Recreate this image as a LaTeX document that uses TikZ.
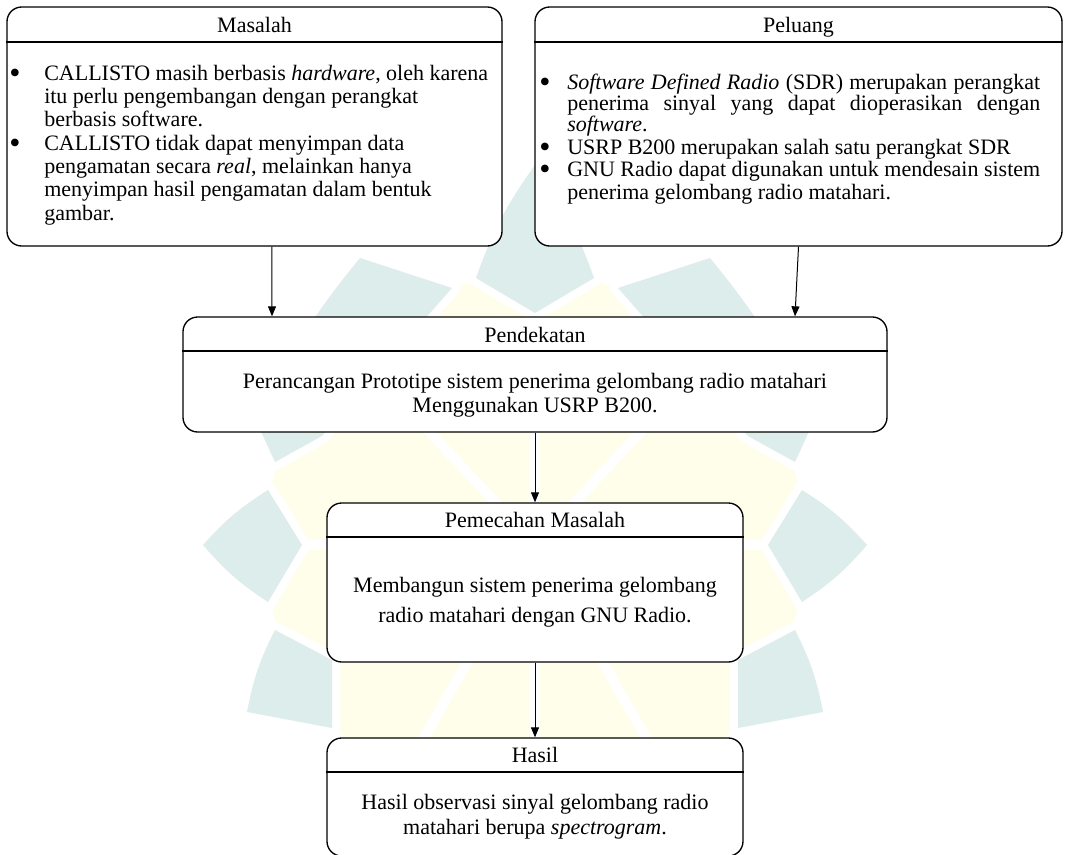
\documentclass[tikz,border=0pt]{standalone}
\usepackage{fontspec}
\setmainfont{Liberation Serif}
\usetikzlibrary{arrows.meta}
\definecolor{wmteal}{HTML}{DDEDEB}
\definecolor{wmyellow}{HTML}{FFFEEA}
\newcommand{\mybul}{\smash{\raisebox{-0.17em}{\scalebox{1.45}{\textbullet}}}}
\begin{document}
\begin{tikzpicture}[x=0.75pt,y=-0.75pt,
  font=\fontsize{16.5pt}{17.5pt}\selectfont,
  box/.style={draw=black,line width=1pt,rounded corners=11pt,fill=white,inner sep=0pt},
  sepline/.style={line width=1pt},
  txt/.style={inner sep=0pt,anchor=base west},
  ctxt/.style={inner sep=0pt,anchor=base},
  bul/.style={inner sep=0pt,anchor=base},
  arr/.style={line width=0.75pt,-{Triangle[length=7.5pt,width=6pt]}},
  wm/.style={fill=wmteal,preaction={draw=white,line width=12pt,line join=round}}
]
\useasboundingbox (0,0) rectangle (1068,854);
% watermark
\coordinate (C) at (535,545);
\fill[wmyellow] (C) circle[radius=270];
\foreach \a in {0,47,90,133,180,210,240,270,300,330}
  \draw[white,line width=7.5pt] (C) -- ++(-\a:280);
\path[wm] (594,278) -- (535,313) -- (476,278) to[bend left=8] (535,165) to[bend left=8] (594,278) -- cycle;
\path[wm] (302,545) -- (268,602) to[bend left=8] (203,545) to[bend left=8] (268,490) -- cycle;
\path[wm] (768,545) -- (802,490) to[bend left=8] (867,545) to[bend left=8] (802,602) -- cycle;
\path[wm] (452,288) -- (322,436) -- (275,462) -- (258,425) to[bend left=8] (360,258) -- cycle;
\path[wm] (618,288) -- (710,258) to[bend left=8] (812,425) -- (795,462) -- (748,436) -- cycle;
\path[wm] (332,660) -- (332,728) -- (247,712) to[bend left=8] (275,630) -- cycle;
\path[wm] (738,660) -- (795,630) to[bend left=8] (823,712) -- (738,728) -- cycle;
% boxes
\node[box,minimum width=371.25pt,minimum height=179.25pt] (masalah) at (254.5,126.5) {};
\node[box,minimum width=395.25pt,minimum height=179.25pt] (peluang) at (798.5,126.5) {};
\node[box,minimum width=528pt,minimum height=86.25pt] (pend) at (535,374.5) {};
\node[box,minimum width=312pt,minimum height=119.25pt] (pemecahan) at (535,582.5) {};
\node[box,minimum width=312pt,minimum height=88.5pt] (hasil) at (535,797) {};
% header lines
\coordinate (hl1) at (0,42);
\coordinate (hl2) at (0,351);
\coordinate (hl3) at (0,537);
\coordinate (hl4) at (0,772);
\draw[sepline] (masalah.west |- hl1) -- (masalah.east |- hl1);
\draw[sepline] (peluang.west |- hl1) -- (peluang.east |- hl1);
\draw[sepline] (pend.west |- hl2) -- (pend.east |- hl2);
\draw[sepline] (pemecahan.west |- hl3) -- (pemecahan.east |- hl3);
\draw[sepline] (hasil.west |- hl4) -- (hasil.east |- hl4);
% titles
\node[ctxt] (tm) at (254.5,32) {Masalah};
\node[ctxt] (tp) at (798.5,32) {Peluang};
\node[ctxt] (tpd) at (535,342) {Pendekatan};
\node[ctxt] (tpm) at (535,527) {Pemecahan Masalah};
\node[ctxt] (th) at (535,762) {Hasil};
% Masalah body
\node[bul] (mb1) at (15,80) {\mybul};
\node[txt] (m1) at (44,80) {CALLISTO masih berbasis \textit{hardware}, oleh karena};
\node[txt] (m2) at (44,103.3) {itu perlu pengembangan dengan perangkat};
\node[txt] (m3) at (44,126.7) {berbasis software.};
\node[bul] (mb2) at (15,150) {\mybul};
\node[txt] (m4) at (44,150) {CALLISTO tidak dapat menyimpan data};
\node[txt] (m5) at (44,173.3) {pengamatan secara \textit{real}, melainkan hanya};
\node[txt] (m6) at (44,196.7) {menyimpan hasil pengamatan dalam bentuk};
\node[txt] (m7) at (44,220) {gambar.};
% Peluang body
\node[bul] (pb1) at (545,89) {\mybul};
\node[txt] (p1) at (567,89) {\makebox[354.75pt][s]{\textit{Software Defined Radio} (SDR) merupakan perangkat}};
\node[txt] (p2) at (567,110) {\makebox[354.75pt][s]{penerima sinyal yang dapat dioperasikan dengan}};
\node[txt] (p3) at (567,131) {\textit{software}.};
\node[bul] (pb2) at (545,154) {\mybul};
\node[txt] (p4) at (567,154) {USRP B200 merupakan salah satu perangkat SDR};
\node[bul] (pb3) at (545,176) {\mybul};
\node[txt] (p5) at (567,176) {\makebox[354.75pt][s]{GNU Radio dapat digunakan untuk mendesain sistem}};
\node[txt] (p6) at (567,199) {penerima gelombang radio matahari.};
% Pendekatan body
\node[ctxt] (pd1) at (535,388) {Perancangan Prototipe sistem penerima gelombang radio matahari};
\node[ctxt] (pd2) at (535,412) {Menggunakan USRP B200.};
% Pemecahan body
\node[ctxt] (pm1) at (535,592) {Membangun sistem penerima gelombang};
\node[ctxt] (pm2) at (535,622) {radio matahari dengan GNU Radio.};
% Hasil body
\node[ctxt] (hs1) at (535,809) {Hasil observasi sinyal gelombang radio};
\node[ctxt] (hs2) at (535,834) {matahari berupa \textit{spectrogram}.};
% arrows
\draw[arr] ([xshift=13.1pt]masalah.south) -- ([xshift=-197.25pt]pend.north);
\draw[arr] (peluang.south) -- ([xshift=195pt]pend.north);
\draw[arr] (pend.south) -- (pemecahan.north);
\draw[arr] (pemecahan.south) -- (hasil.north);
\end{tikzpicture}
\end{document}
